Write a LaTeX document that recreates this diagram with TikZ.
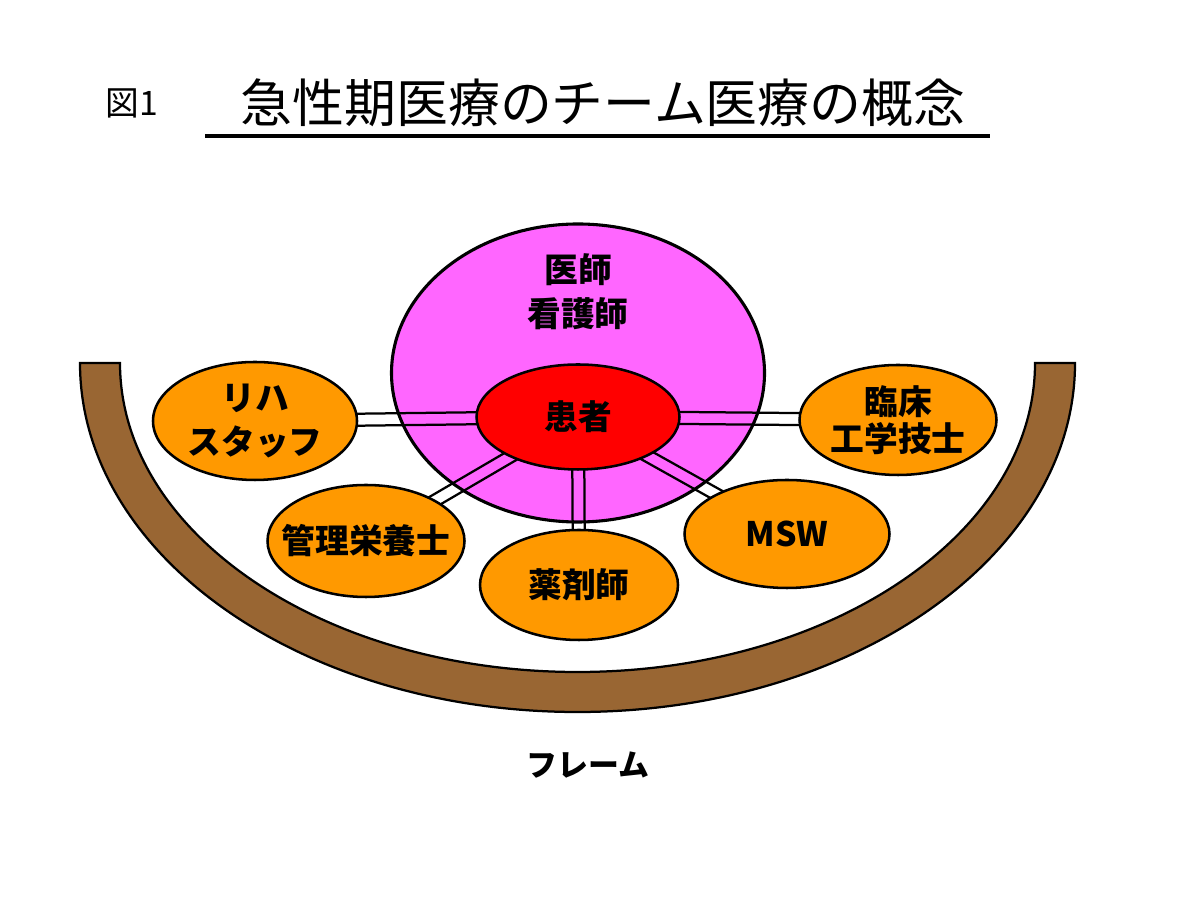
\documentclass[tikz,border=0pt]{standalone}
\usepackage{fontspec}
\setmainfont{Noto Sans CJK JP}
\usetikzlibrary{shapes.geometric,calc}
\definecolor{iryopink}{HTML}{FF66FF}
\definecolor{kanjared}{HTML}{FF0000}
\definecolor{staffor}{HTML}{FF9900}
\definecolor{framebrown}{HTML}{996633}
\begin{document}
\begin{tikzpicture}[staff/.style={ellipse,draw,fill=staffor,inner xsep=-0.8cm,inner ysep=-0.5cm,align=center,
                                  line width=1.8pt,font=\bfseries\fontsize{24}{31}\selectfont},
                    link/.style={draw,line width=1.6pt}]
  \useasboundingbox (0,0) rectangle (30,22.525);

  \node (zu) at (3.3,19.95) {\fontsize{24}{28}\selectfont 図1};
  \node (title) at (15.075,19.95) {\fontsize{36.9}{40}\selectfont 急性期医療のチーム医療の概念};
  \draw[line width=2.8pt] (5.125,19.125) coordinate (ul) -- (24.75,19.125) coordinate (ur);

  \draw[fill=framebrown,line width=1.6pt] (2,13.45)
    arc[start angle=180,end angle=360,x radius=12.4375cm,y radius=8.725cm]
    -- (25.875,13.45)
    arc[start angle=0,end angle=-180,x radius=11.4375cm,y radius=7.725cm]
    -- cycle;

  \draw[fill=iryopink,line width=2.2pt] (14.45,13.2) ellipse [x radius=4.6625cm,y radius=3.725cm];
  \node[ellipse,minimum width=9.325cm,minimum height=7.45cm] (iryo) at (14.45,13.2) {};
  \node[align=center,font=\bfseries\fontsize{24}{31}\selectfont] (ishi) at (14.45,15.225) {医師\\看護師};

  \node[staff,fill=kanjared,minimum width=5.075cm,minimum height=2.625cm] (kanja) at (14.45,12.1) {患者};
  \node[staff,minimum width=5.1cm,minimum height=2.95cm] (riha) at (6.375,12.0) {リハ\\スタッフ};
  \node[staff,minimum width=4.925cm,minimum height=2.75cm,font=\bfseries\fontsize{24}{26}\selectfont] (rinsho) at (22.45,12.025) {臨床\\工学技士};
  \node[staff,minimum width=4.925cm,minimum height=2.8cm] (eiyo) at (9.15,9.0) {管理栄養士};
  \node[staff,minimum width=4.95cm,minimum height=2.75cm] (yaku) at (14.475,7.9) {薬剤師};
  \node[staff,minimum width=5.125cm,minimum height=2.7cm] (msw) at (19.675,9.175) {MSW};

  \begin{scope}[even odd rule]
    \clip (0,0) rectangle (30,22.525)
      (kanja.center) ellipse [x radius=2.5375cm,y radius=1.3125cm]
      (riha.center) ellipse [x radius=2.55cm,y radius=1.475cm]
      (rinsho.center) ellipse [x radius=2.4625cm,y radius=1.375cm]
      (eiyo.center) ellipse [x radius=2.4625cm,y radius=1.4cm]
      (yaku.center) ellipse [x radius=2.475cm,y radius=1.375cm]
      (msw.center) ellipse [x radius=2.5625cm,y radius=1.35cm];
    \foreach \n in {riha,rinsho,eiyo,yaku,msw} {
      \draw[link] ($(kanja)!0.15cm!90:(\n)$) -- ($(\n)!0.15cm!-90:(kanja)$);
      \draw[link] ($(kanja)!0.15cm!-90:(\n)$) -- ($(\n)!0.15cm!90:(kanja)$);
    }
  \end{scope}

  \node[font=\bfseries\fontsize{22}{26}\selectfont] (frame) at (14.7,3.4) {フレーム};
\end{tikzpicture}
\end{document}
